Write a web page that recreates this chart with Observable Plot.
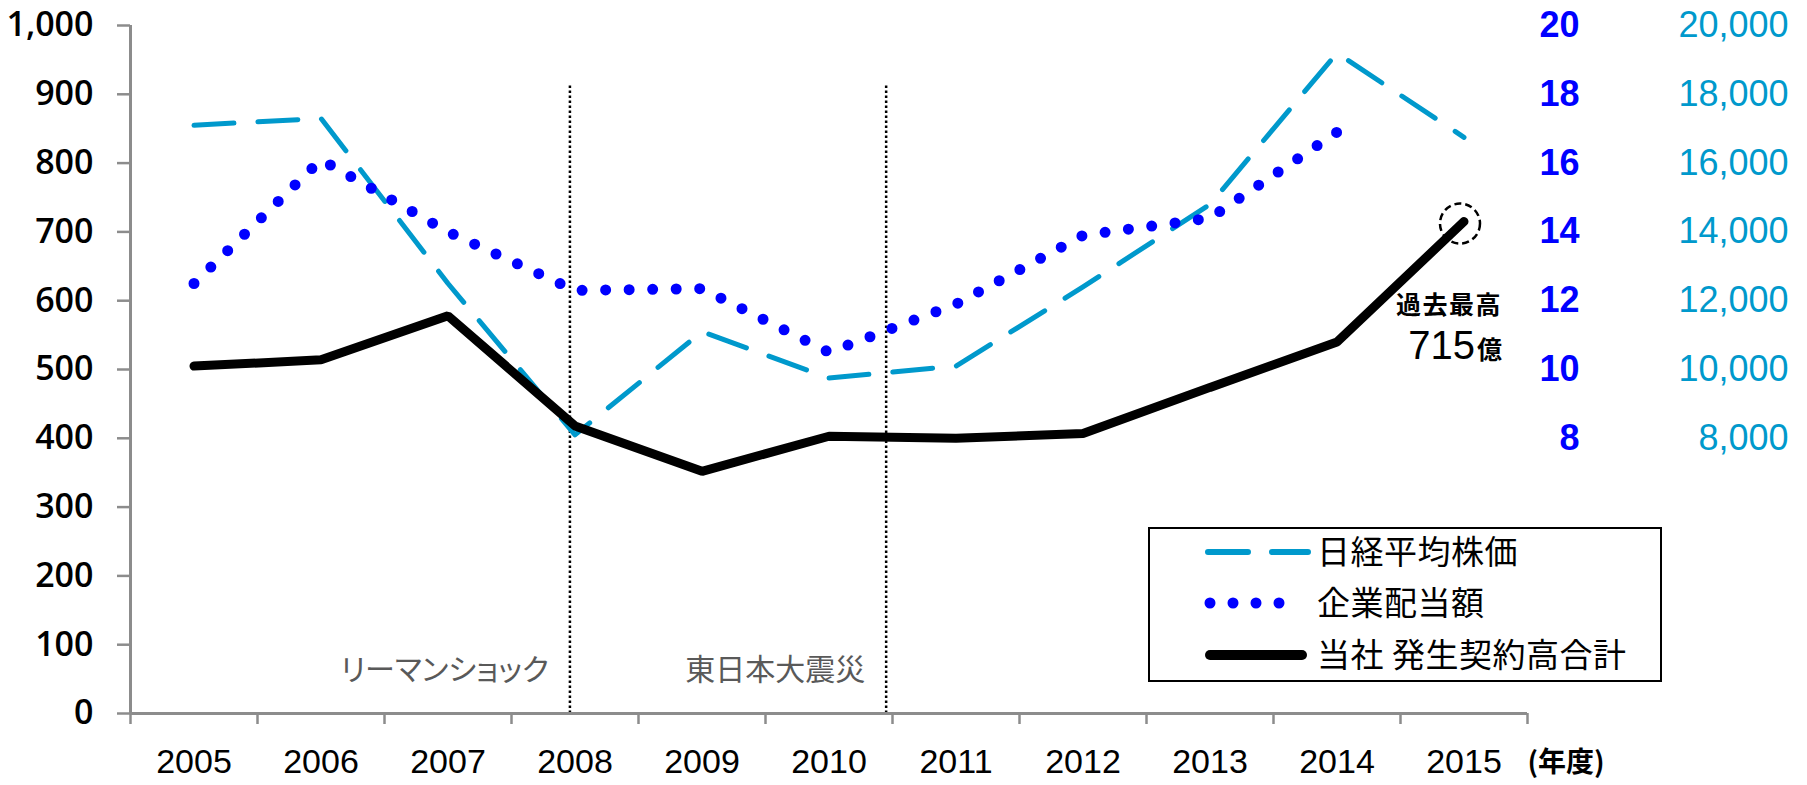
<!DOCTYPE html>
<html>
<head>
<meta charset="utf-8">
<script src="https://cdn.jsdelivr.net/npm/d3@7"></script>
<script src="https://cdn.jsdelivr.net/npm/@observablehq/plot@0.6"></script>
<style>
  body { margin: 0; background: #fff; }
  #wrap { position: relative; width: 1807px; height: 785px; overflow: hidden; }
  #legend { position: absolute; left: 1148px; top: 527px; }
  .palt text { font-feature-settings: "palt"; }
</style>
</head>
<body>
<div id="wrap"></div>
<script>
// ---- data ----
const years = [2005, 2006, 2007, 2008, 2009, 2010, 2011, 2012, 2013, 2014, 2015];
const nikkei = [17100, 17300, 12500, 8100, 11100, 9750, 10100, 12400, 14800, 19200, 16750]; // 日経平均株価 (円)
const dividend = [12.5, 16.1, 14.0, 12.3, 12.35, 10.5, 11.9, 13.9, 14.4, 16.9];           // 企業配当額 (兆円), 2005-2014
const company = [505, 514, 578, 418, 352, 403, 400, 407, 474, 540, 715];                   // 当社 発生契約高合計 (億円)
const seriesNames = ["日経平均株価", "企業配当額", "当社 発生契約高合計"];
const seriesColors = ["#0099CC", "#0000FF", "#000000"];
const leftTicks = [0, 100, 200, 300, 400, 500, 600, 700, 800, 900, 1000];
const dividendTicks = [8, 10, 12, 14, 16, 18, 20];
const nikkeiTicks = [8000, 10000, 12000, 14000, 16000, 18000, 20000];
const events = [
  {label: "リーマンショック", fy: 2007.96},
  {label: "東日本大震災", fy: 2010.45}
];
const record = {year: 2015, value: 715, title: "過去最高", amount: "715", unit: "億"};
const xUnit = "(年度)";

// scale alignment of the secondary axes with the left axis (top = 1,000 = 20 = 20,000)
const DIV_K = 1000 / 20;
const NIK_K = 1000 / 20000;

const nikkeiData = years.map((y, i) => ({year: y, v: nikkei[i] * NIK_K}));
const divData = dividend.map((d, i) => ({year: years[i], v: d * DIV_K}));
const compData = years.map((y, i) => ({year: y, v: company[i]}));
const bounds = years.map(y => y - 0.5).concat([years[years.length - 1] + 0.5]);

const JP = "'Noto Sans CJK JP', sans-serif";
const NUM = "'Liberation Sans', Arial, sans-serif";
const AX = "#8c8c8c";

const chart = Plot.plot({
  width: 1807,
  height: 785,
  marginLeft: 130,
  marginRight: 280,
  marginTop: 25,
  marginBottom: 72,
  x: {domain: [bounds[0], bounds[bounds.length - 1]]},
  y: {domain: [0, 1000]},
  style: {fontFamily: NUM, background: "white", overflow: "visible"},
  marks: [
    // event markers
    Plot.ruleX(events, {x: "fy", y1: 0, y2: 915, stroke: "#000", strokeWidth: 2.5, strokeDasharray: "2.5 2.5"}),
    Plot.text(events, {x: "fy", y: 62, text: "label", textAnchor: "end", dx: -21, lineAnchor: "middle",
      fill: "#595959", fontSize: 30, fontFamily: JP, className: "palt"}),
    // series
    Plot.line(nikkeiData, {x: "year", y: "v", stroke: seriesColors[0], strokeWidth: 5,
      strokeDasharray: "40 24", strokeLinecap: "round"}),
    Plot.line(divData, {x: "year", y: "v", stroke: seriesColors[1], strokeWidth: 11,
      strokeDasharray: "0 23.6", strokeLinecap: "round", className: "divline"}),
    Plot.line(compData, {x: "year", y: "v", stroke: seriesColors[2], strokeWidth: 9,
      strokeLinecap: "round", strokeLinejoin: "miter"}),
    // record annotation
    Plot.dot([record], {x: "year", y: "value", r: 20, dx: -4, dy: 2, stroke: "#000", strokeWidth: 2.5,
      strokeDasharray: "7 4", fill: "none"}),
    Plot.text([record], {x: "year", y: "value", text: "title", dx: -15, dy: 84, lineAnchor: "middle",
      fontSize: 25, fontWeight: "bold", fontFamily: JP, className: "spaced"}),
    Plot.text([record], {x: "year", y: "value", text: "amount", textAnchor: "end", dx: 11, dy: 137,
      lineAnchor: "bottom", fontSize: 40, fontFamily: NUM}),
    Plot.text([record], {x: "year", y: "value", text: "unit", textAnchor: "start", dx: 13, dy: 137,
      lineAnchor: "bottom", fontSize: 25, fontWeight: "bold", fontFamily: JP}),
    // axes
    Plot.ruleX([bounds[0]], {stroke: AX, strokeWidth: 3}),
    Plot.ruleY([0], {stroke: AX, strokeWidth: 3}),
    Plot.axisY(leftTicks, {anchor: "left", tickSize: 13, tickPadding: 24, stroke: AX, strokeWidth: 2.5,
      fill: "#000", fontSize: 34, fontWeight: 600, fontFamily: "'Open Sans', sans-serif",
      tickFormat: d3.format(","), label: null}),
    Plot.axisX(bounds, {anchor: "bottom", tickSize: 11, stroke: AX, strokeWidth: 2.5, tickFormat: () => "", label: null}),
    Plot.axisX(years, {anchor: "bottom", tickSize: 0, tickPadding: 35, fill: "#000", fontSize: 34,
      fontFamily: NUM, tickFormat: d => String(d), label: null}),
    Plot.axisY(dividendTicks.map(d => d * DIV_K), {anchor: "right", tickSize: 0, tickPadding: 52, textAnchor: "end",
      fill: "#0000FF", fontSize: 36, fontWeight: "bold", fontFamily: NUM, tickFormat: d => String(d / DIV_K), label: null}),
    Plot.axisY(nikkeiTicks.map(d => d * NIK_K), {anchor: "right", tickSize: 0, tickPadding: 261, textAnchor: "end",
      fill: "#0099CC", fontSize: 36, fontFamily: NUM, tickFormat: d => d3.format(",")(d / NIK_K), label: null}),
    Plot.text([xUnit], {frameAnchor: "bottom-right", textAnchor: "start", lineAnchor: "middle", dy: 50,
      fontSize: 28, fontWeight: "bold", fontFamily: JP})
  ]
});
document.getElementById("wrap").appendChild(chart);

// make the dotted series end exactly on a dot
chart.querySelectorAll(".divline path, path.divline").forEach(p => {
  const L = p.getTotalLength();
  const n = Math.max(1, Math.round(L / 23.6));
  const step = (L - 0.5) / n;
  p.setAttribute("stroke-dasharray", `0 ${step.toFixed(3)}`);
  p.style.strokeDasharray = `0 ${step.toFixed(3)}`;
});
chart.querySelectorAll(".spaced text, text.spaced").forEach(t => t.setAttribute("letter-spacing", "1.5"));

// ---- legend ----
const NS = "http://www.w3.org/2000/svg";
const lg = document.createElementNS(NS, "svg");
lg.setAttribute("id", "legend");
lg.setAttribute("width", 514);
lg.setAttribute("height", 155);
lg.innerHTML = `<rect x="1" y="1" width="512" height="153" fill="white" stroke="#000" stroke-width="2"/>`;
const legendStyles = [
  {w: 6, dash: "40 24", x1: 60, x2: 160},
  {w: 11, dash: "0 23", x1: 62, x2: 154},
  {w: 10, dash: null, x1: 62, x2: 154}
];
const rowY = [25, 76, 128];
seriesNames.forEach((name, i) => {
  const s = legendStyles[i];
  const ln = document.createElementNS(NS, "line");
  ln.setAttribute("x1", s.x1); ln.setAttribute("x2", s.x2);
  ln.setAttribute("y1", rowY[i]); ln.setAttribute("y2", rowY[i]);
  ln.setAttribute("stroke", seriesColors[i]);
  ln.setAttribute("stroke-width", s.w);
  ln.setAttribute("stroke-linecap", "round");
  if (s.dash) ln.setAttribute("stroke-dasharray", s.dash);
  lg.appendChild(ln);
  const t = document.createElementNS(NS, "text");
  t.setAttribute("x", 169); t.setAttribute("y", rowY[i]);
  t.setAttribute("dy", "0.36em");
  t.setAttribute("font-family", "Noto Sans CJK JP");
  t.setAttribute("font-size", 33);
  t.setAttribute("letter-spacing", "0.5");
  t.setAttribute("fill", "#000");
  t.textContent = name;
  lg.appendChild(t);
});
document.getElementById("wrap").appendChild(lg);
</script>
</body>
</html>
